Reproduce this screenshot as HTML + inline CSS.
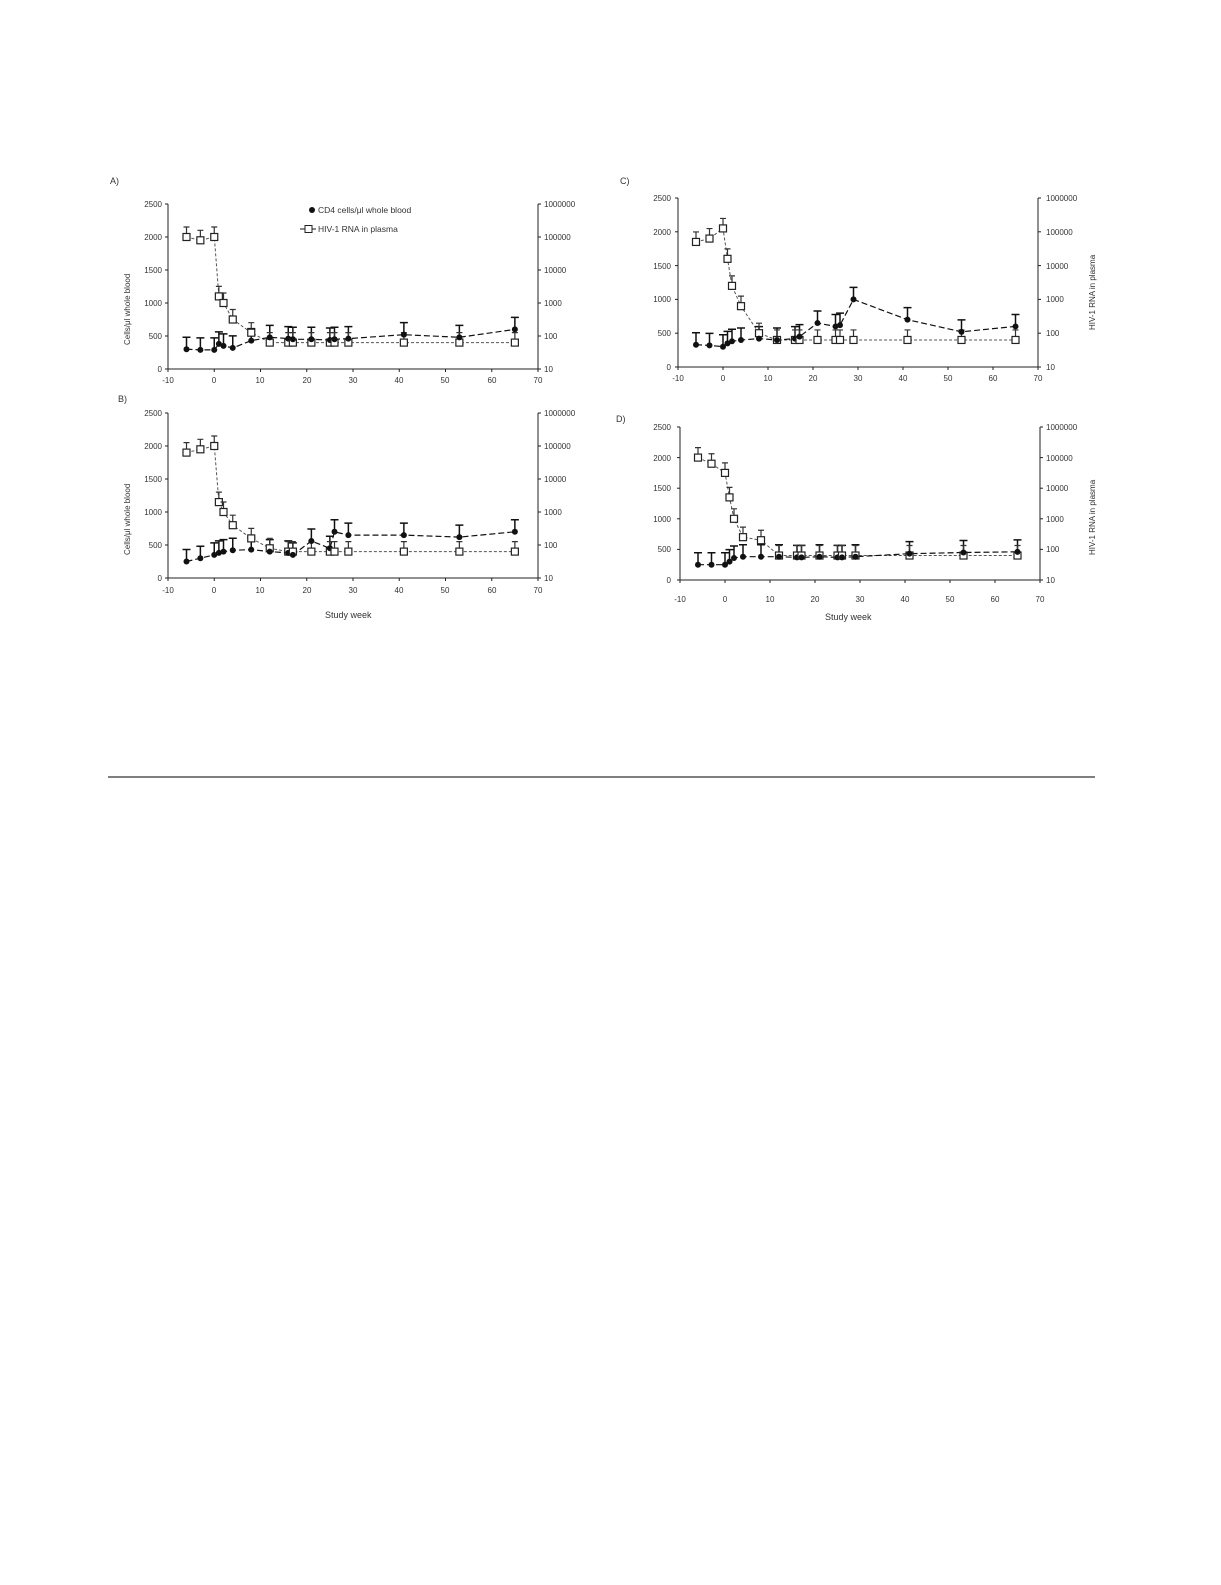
<!DOCTYPE html>
<html><head><meta charset="utf-8"><style>
html,body{margin:0;padding:0;background:#fff;}
svg{display:block;font-family:"Liberation Sans",sans-serif;}
</style></head><body>
<svg id="s" width="1221" height="1585" viewBox="0 0 1221 1585" xmlns="http://www.w3.org/2000/svg">
<rect width="1221" height="1585" fill="#fff"/>
<line x1="108" y1="777" x2="1095" y2="777" stroke="#333" stroke-width="1.2"/>
<g font-size="9" fill="#333">
<text x="110" y="184">A)</text><text x="620" y="184">C)</text>
<text x="118" y="402">B)</text><text x="616" y="422">D)</text>
<text x="318" y="213" font-size="8.5">CD4 cells/μl whole blood</text>
<text x="318" y="232" font-size="8.5">HIV-1 RNA in plasma</text>
<text x="130" y="345" font-size="8" transform="rotate(-90 130 345)">Cells/μl whole blood</text>
<text x="130" y="555" font-size="8" transform="rotate(-90 130 555)">Cells/μl whole blood</text>
<text x="1095" y="330" font-size="8" transform="rotate(-90 1095 330)">HIV-1 RNA in plasma</text>
<text x="1095" y="555" font-size="8" transform="rotate(-90 1095 555)">HIV-1 RNA in plasma</text>
<text x="325" y="618" font-size="9">Study week</text>
<text x="825" y="620" font-size="9">Study week</text>
<!-- Panel A ticks -->
<g font-size="8" text-anchor="end">
<text x="162" y="207">2500</text><text x="162" y="240">2000</text><text x="162" y="273">1500</text><text x="162" y="306">1000</text><text x="162" y="339">500</text><text x="162" y="372">0</text>
<text x="162" y="416">2500</text><text x="162" y="449">2000</text><text x="162" y="482">1500</text><text x="162" y="515">1000</text><text x="162" y="548">500</text><text x="162" y="581">0</text>
<text x="671" y="201">2500</text><text x="671" y="235">2000</text><text x="671" y="269">1500</text><text x="671" y="302">1000</text><text x="671" y="336">500</text><text x="671" y="370">0</text>
<text x="671" y="430">2500</text><text x="671" y="461">2000</text><text x="671" y="491">1500</text><text x="671" y="522">1000</text><text x="671" y="552">500</text><text x="671" y="583">0</text>
</g>
<g font-size="8">
<text x="544" y="207">1000000</text><text x="544" y="240">100000</text><text x="544" y="273">10000</text><text x="544" y="306">1000</text><text x="544" y="339">100</text><text x="544" y="372">10</text>
<text x="544" y="416">1000000</text><text x="544" y="449">100000</text><text x="544" y="482">10000</text><text x="544" y="515">1000</text><text x="544" y="548">100</text><text x="544" y="581">10</text>
<text x="1046" y="201">1000000</text><text x="1046" y="235">100000</text><text x="1046" y="269">10000</text><text x="1046" y="302">1000</text><text x="1046" y="336">100</text><text x="1046" y="370">10</text>
<text x="1046" y="430">1000000</text><text x="1046" y="461">100000</text><text x="1046" y="491">10000</text><text x="1046" y="522">1000</text><text x="1046" y="552">100</text><text x="1046" y="583">10</text>
</g>
<g font-size="8" text-anchor="middle">
<text x="168" y="383">-10</text><text x="214" y="383">0</text><text x="260" y="383">10</text><text x="307" y="383">20</text><text x="353" y="383">30</text><text x="399" y="383">40</text><text x="445" y="383">50</text><text x="492" y="383">60</text><text x="538" y="383">70</text>
<text x="168" y="593">-10</text><text x="214" y="593">0</text><text x="260" y="593">10</text><text x="307" y="593">20</text><text x="353" y="593">30</text><text x="399" y="593">40</text><text x="445" y="593">50</text><text x="492" y="593">60</text><text x="538" y="593">70</text>
<text x="678" y="381">-10</text><text x="723" y="381">0</text><text x="768" y="381">10</text><text x="813" y="381">20</text><text x="858" y="381">30</text><text x="903" y="381">40</text><text x="948" y="381">50</text><text x="993" y="381">60</text><text x="1038" y="381">70</text>
<text x="680" y="602">-10</text><text x="725" y="602">0</text><text x="770" y="602">10</text><text x="815" y="602">20</text><text x="860" y="602">30</text><text x="905" y="602">40</text><text x="950" y="602">50</text><text x="995" y="602">60</text><text x="1040" y="602">70</text>
</g>
</g>
<g id="d"></g>
</svg>
<script>
var P=[
{x0:168,x1:538,y0:369,y1:204,c:[300,290,290,380,350,320,430,480,460,450,450,440,450,460,520,480,600],r:[5,4.9,5,3.2,3,2.5,2.1,1.8,1.8,1.8,1.8,1.8,1.8,1.8,1.8,1.8,1.8],lg:1},
{x0:678,x1:1038,y0:367,y1:198,c:[330,320,300,350,380,400,420,400,420,450,650,600,620,1000,700,520,600],r:[4.7,4.8,5.1,4.2,3.4,2.8,2,1.8,1.8,1.8,1.8,1.8,1.8,1.8,1.8,1.8,1.8]},
{x0:168,x1:538,y0:578,y1:413,c:[250,300,350,380,400,420,430,400,380,350,560,450,700,650,650,620,700],r:[4.8,4.9,5,3.3,3,2.6,2.2,1.9,1.8,1.8,1.8,1.8,1.8,1.8,1.8,1.8,1.8]},
{x0:680,x1:1040,y0:580,y1:427,c:[250,250,250,300,360,380,380,380,370,370,380,370,370,380,430,450,460],r:[5,4.8,4.5,3.7,3,2.4,2.3,1.8,1.8,1.8,1.8,1.8,1.8,1.8,1.8,1.8,1.8]}];
var W=[-6,-3,0,1,2,4,8,12,16,17,21,25,26,29,41,53,65];
var h='';
P.forEach(function(p){
 var X=function(w){return p.x0+(w+10)/80*(p.x1-p.x0)};
 var Y=function(v){return p.y0+v/2500*(p.y1-p.y0)};
 var R=function(l){return p.y0+(l-1)/5*(p.y1-p.y0)};
 h+='<path d="M'+p.x0+' '+p.y1+'V'+p.y0+'H'+p.x1+'V'+p.y1+'" fill="none" stroke="#222" stroke-width="1"/>';
 for(var i=0;i<=8;i++){var x=p.x0+i*(p.x1-p.x0)/8;h+='<line x1="'+x+'" y1="'+p.y0+'" x2="'+x+'" y2="'+(p.y0+3)+'" stroke="#222"/>';}
 for(var i=0;i<=5;i++){var y=p.y0+i*(p.y1-p.y0)/5;h+='<line x1="'+(p.x0-3)+'" y1="'+y+'" x2="'+p.x0+'" y2="'+y+'" stroke="#222"/><line x1="'+p.x1+'" y1="'+y+'" x2="'+(p.x1+3)+'" y2="'+y+'" stroke="#222"/>';}
 var a='',b='';
 W.forEach(function(w,i){a+=(i?'L':'M')+X(w).toFixed(1)+' '+Y(p.c[i]).toFixed(1);b+=(i?'L':'M')+X(w).toFixed(1)+' '+R(p.r[i]).toFixed(1);});
 h+='<path d="'+b+'" fill="none" stroke="#555" stroke-width="1" stroke-dasharray="3 2"/>';
 h+='<path d="'+a+'" fill="none" stroke="#111" stroke-width="1.2" stroke-dasharray="6 3"/>';
 W.forEach(function(w,i){var x=X(w),y=Y(p.c[i]),yr=R(p.r[i]);
  h+='<path d="M'+x+' '+(y-12)+'V'+y+'M'+(x-4)+' '+(y-12)+'H'+(x+4)+'" stroke="#111" stroke-width="1.5"/>';
  h+='<path d="M'+x+' '+(yr-10)+'V'+yr+'M'+(x-3)+' '+(yr-10)+'H'+(x+3)+'" stroke="#333" stroke-width="1.2"/>';
  h+='<rect x="'+(x-3.5)+'" y="'+(yr-3.5)+'" width="7" height="7" fill="#fff" stroke="#222" stroke-width="1.2"/>';
  h+='<circle cx="'+x+'" cy="'+y+'" r="3" fill="#111"/>';});
 if(p.lg){h+='<circle cx="312" cy="210" r="3" fill="#111"/><line x1="300" y1="229" x2="316" y2="229" stroke="#111"/><rect x="305" y="225.5" width="7" height="7" fill="#fff" stroke="#222"/>';}
});
document.getElementById('d').innerHTML=h;
</script>
</body></html>
